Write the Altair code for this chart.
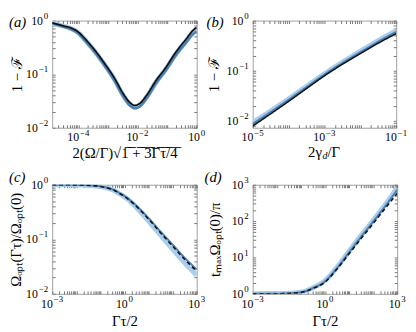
import altair as alt
import pandas as pd

# ---------------- data ----------------
# (a)
a_x = [1.3e-5, 2.8e-5, 6.0e-5, 1.0e-4, 1.66e-4, 3.5e-4, 7.6e-4, 1.6e-3, 3.3e-3,
       5.5e-3, 8.1e-3, 1.2e-2, 2.0e-2, 4.2e-2, 8.9e-2, 0.19, 0.41, 0.76, 1.0]
a_black = [0.91, 0.81, 0.72, 0.61, 0.46, 0.285, 0.16, 0.087, 0.043,
           0.0295, 0.026, 0.0285, 0.040, 0.076, 0.132, 0.25, 0.43, 0.66, 0.75]
a_light = [0.90, 0.80, 0.70, 0.59, 0.44, 0.27, 0.152, 0.082, 0.040,
           0.0275, 0.0245, 0.027, 0.037, 0.071, 0.123, 0.232, 0.40, 0.61, 0.69]
a_dark = [0.89, 0.78, 0.68, 0.57, 0.42, 0.26, 0.145, 0.078, 0.038,
          0.026, 0.023, 0.025, 0.035, 0.067, 0.116, 0.218, 0.37, 0.56, 0.63]

# (b)
b_x = [1e-5, 3.16e-5, 1e-4, 3.16e-4, 1e-3, 3.16e-3, 1e-2, 3.16e-2, 1e-1]
b_black = [0.0079, 0.0138, 0.0245, 0.0442, 0.0794, 0.135, 0.219, 0.355, 0.55]
b_light = [0.0093, 0.0158, 0.0275, 0.049, 0.087, 0.148, 0.245, 0.40, 0.63]
b_dark = [0.0086, 0.0148, 0.026, 0.0465, 0.083, 0.141, 0.232, 0.377, 0.59]

# (c)
c_x = [1e-3, 1e-2, 3e-2, 0.1, 0.2, 0.37, 0.6, 1, 1.7, 3, 6, 10, 30, 100, 300, 1000]
c_black = [1.0, 0.993, 0.978, 0.93, 0.87, 0.79, 0.70, 0.61, 0.51, 0.41, 0.30,
           0.235, 0.135, 0.075, 0.044, 0.026]
c_light = [1.0, 0.99, 0.975, 0.925, 0.865, 0.785, 0.69, 0.60, 0.50, 0.39, 0.28,
           0.215, 0.122, 0.066, 0.038, 0.022]
c_dark = [1.0, 0.995, 0.98, 0.935, 0.875, 0.80, 0.71, 0.62, 0.52, 0.42, 0.31,
          0.245, 0.142, 0.08, 0.047, 0.028]

# (d)
d_x = [1e-3, 1e-2, 0.1, 0.316, 1, 3.16, 10, 31.6, 100, 316, 1000]
d_black = [1.0, 1.007, 1.096, 1.41, 2.09, 4.79, 12.6, 33.1, 85.1, 224, 575]
d_light = [1.0, 1.01, 1.11, 1.47, 2.3, 5.4, 14.8, 40, 104, 280, 820]
d_dark = [1.0, 1.008, 1.10, 1.44, 2.2, 5.1, 13.8, 37, 96, 255, 720]

# tick labels (decade exponents shown on each axis)
a_xdec, a_ydec = [-4, -2, 0], [-2, -1, 0]
b_xdec, b_ydec = [-5, -3, -1], [-2, -1, 0]
c_xdec, c_ydec = [-3, 0, 3], [-2, -1, 0]
d_xdec, d_ydec = [-3, 0, 3], [0, 1, 2, 3]

FONT = "Liberation Serif"
LIGHT = "#a9cdea"
DARK = "#4a80b4"
BLACK = "#111111"
TICK = "#777777"


def exp_str(k):
    return ("−" if k < 0 else "") + str(abs(k))


def exp_width(k):
    return 4.6 * len(str(abs(k))) + (5.2 if k < 0 else 0)


def minor_values(dom):
    import math
    lo, hi = dom
    vals = []
    for e in range(math.floor(math.log10(lo)) - 1, math.ceil(math.log10(hi)) + 1):
        for k in range(1, 10):
            v = float(f"{k * 10.0 ** e:.6g}")
            if lo * 0.9999 <= v <= hi * 1.0001:
                vals.append(v)
    return vals


def tick_axis(dom, orient, title=None, tpad=0, **kw):
    args = dict(values=minor_values(dom), labels=False, tickSize=3, offset=-3,
                domain=False, grid=False, tickColor=TICK, orient=orient)
    if title is not None:
        args.update(title=title, titlePadding=tpad)
    else:
        args.update(title=None)
    args.update(kw)
    return alt.Axis(**args)


def panel(xs, series, xdom, ydom, xdec, ydec, xtitle, ytitle, xtpad, ytpad,
          tag, tag_xy, W, H, extra=None):
    xs_ = alt.Scale(type="log", domain=xdom, nice=False)
    ys_ = alt.Scale(type="log", domain=ydom, nice=False)
    layers = []
    for i, (vals, color, sw, dash) in enumerate(series):
        df = pd.DataFrame({"x": xs, "y": vals})
        if i == 0:
            xa = tick_axis(xdom, "bottom", xtitle, xtpad)
            ya = tick_axis(ydom, "left", ytitle, ytpad)
        elif i == 1:
            xa = tick_axis(xdom, "top")
            ya = tick_axis(ydom, "right")
        else:
            xa = None
            ya = None
        m = alt.Chart(df).mark_line(color=color, strokeWidth=sw, clip=True,
                                    strokeDash=dash if dash else [1, 0],
                                    interpolate="monotone")
        layers.append(m.encode(x=alt.X("x:Q", scale=xs_, axis=xa),
                               y=alt.Y("y:Q", scale=ys_, axis=ya)))
    # x tick labels: "10" + superscript exponent, centred under the tick
    for k in xdec:
        df = pd.DataFrame({"x": [10.0 ** k]})
        tot = 12 + 0.8 + exp_width(k)
        layers.append(alt.Chart(df).mark_text(
            align="left", baseline="top", font=FONT, fontSize=12, color="black",
            dx=-tot / 2, dy=0).encode(
            x=alt.X("x:Q", scale=xs_, axis=None), y=alt.value(H + 5),
            text=alt.value("10")))
        layers.append(alt.Chart(df).mark_text(
            align="left", baseline="top", font=FONT, fontSize=9, color="black",
            dx=-tot / 2 + 12.8, dy=0).encode(
            x=alt.X("x:Q", scale=xs_, axis=None), y=alt.value(H + 1),
            text=alt.value(exp_str(k))))
    # y tick labels, right aligned to the left of the frame
    for k in ydec:
        df = pd.DataFrame({"y": [10.0 ** k]})
        ew = exp_width(k)
        layers.append(alt.Chart(df).mark_text(
            align="right", baseline="middle", font=FONT, fontSize=12,
            color="black").encode(
            y=alt.Y("y:Q", scale=ys_, axis=None), x=alt.value(-4 - ew - 0.8),
            text=alt.value("10")))
        layers.append(alt.Chart(df).mark_text(
            align="right", baseline="middle", font=FONT, fontSize=9,
            color="black", dy=-5).encode(
            y=alt.Y("y:Q", scale=ys_, axis=None), x=alt.value(-4),
            text=alt.value(exp_str(k))))
    tdf = pd.DataFrame({"t": [tag]})
    layers.append(alt.Chart(tdf).mark_text(
        align="left", baseline="middle", font=FONT, fontStyle="italic",
        fontSize=15, color="black").encode(
        x=alt.value(tag_xy[0]), y=alt.value(tag_xy[1]), text="t:N"))
    if extra:
        layers.extend(extra)
    return alt.layer(*layers).resolve_axis(x="independent", y="independent") \
        .properties(width=W, height=H)


def txt(s, x, y, size=15, align="left", style="normal"):
    return alt.Chart(pd.DataFrame({"t": [s]})).mark_text(
        align=align, baseline="top", font=FONT, fontSize=size, color="black",
        fontStyle=style).encode(x=alt.value(x), y=alt.value(y), text="t:N")


WA, WB, WC, WD = 147, 146, 147, 147
H1, H2 = 109, 111

pa = panel(a_x, [(a_light, LIGHT, 5, None), (a_dark, DARK, 2.5, None),
                 (a_black, BLACK, 1.8, None)],
           [1.3e-5, 1], [0.01, 1], a_xdec, a_ydec,
           "2(Ω/Γ)√1̅ ̅+̅ ̅3̅Γ̅τ̅/̅4̅", "1 − ℱ", 18, 28,
           "(a)", (-44, 1), WA, H1)

b_title = [txt("2γ", WB / 2 - 2.5, H1 + 18, align="right"),
           txt("d", WB / 2 - 2.0, H1 + 24, size=10, style="italic"),
           txt("/Γ", WB / 2 + 3.0, H1 + 18)]
pb = panel(b_x, [(b_light, LIGHT, 5, None), (b_dark, DARK, 2.5, None),
                 (b_black, BLACK, 1.5, None)],
           [1e-5, 0.1], [0.0073, 1], b_xdec, b_ydec,
           None, "1 − ℱ", 18, 31,
           "(b)", (-47, 1), WB, H1, extra=b_title)

pc = panel(c_x, [(c_light, LIGHT, 5, None), (c_dark, DARK, 2.0, None),
                 (c_black, BLACK, 1.6, [4, 3])],
           [1e-3, 1e3], [0.01, 1], c_xdec, c_ydec,
           "Γτ/2", "Ωₒₚₜ(Γτ)/Ωₒₚₜ(0)", 20, 29,
           "(c)", (-44, -8), WC, H2)

pd_ = panel(d_x, [(d_light, LIGHT, 5, None), (d_dark, DARK, 2.0, None),
                  (d_black, BLACK, 1.6, [4, 3])],
            [1e-3, 1e3], [1, 1000], d_xdec, d_ydec,
            "Γτ/2", "tₘₐₓΩₒₚₜ(0)/π", 20, 30,
            "(d)", (-49, -8), WD, H2)

chart = alt.concat(
    pa, pb, pc, pd_, columns=2, bounds="flush",
    spacing=alt.RowColnumber(row=58, column=57),
).properties(padding={"left": 0, "top": 0, "right": 0, "bottom": 0}).configure_view(
    stroke="#a0a0a0", strokeWidth=1
).configure_axis(
    labelFont=FONT, labelFontSize=12, labelColor="black",
    titleFont=FONT, titleFontSize=15, titleFontWeight="normal", titleColor="black",
)

chart.save("out.html", embed_options={"renderer": "svg", "actions": False})
